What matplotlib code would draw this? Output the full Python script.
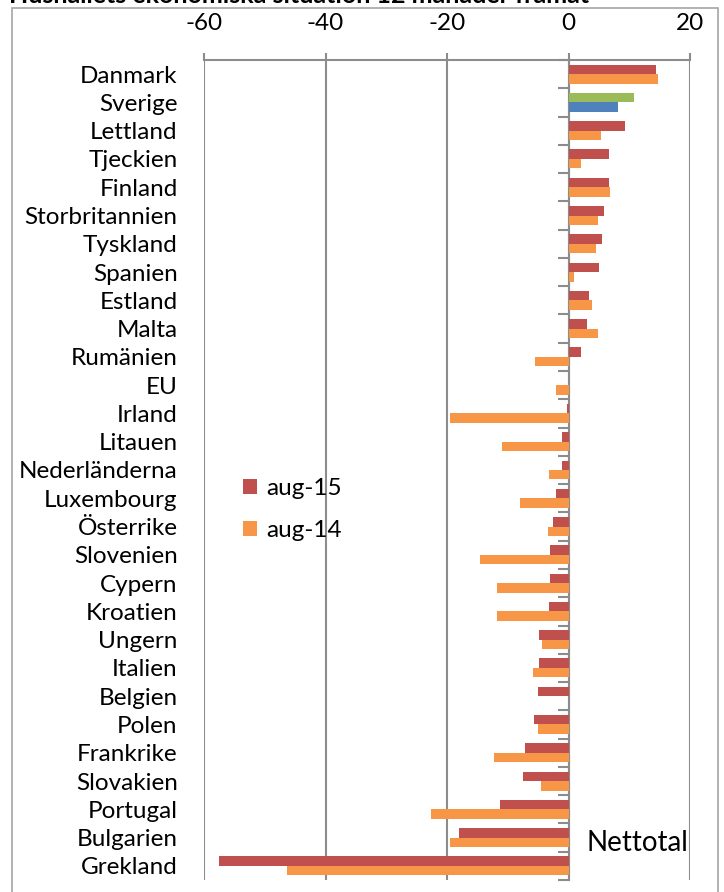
import numpy as np
import matplotlib.pyplot as plt
from matplotlib.patches import Rectangle

# Nettotal per land, hushållets ekonomiska situation 12 månader framåt
countries = ["Danmark", "Sverige", "Lettland", "Tjeckien", "Finland", "Storbritannien",
             "Tyskland", "Spanien", "Estland", "Malta", "Rumänien", "EU", "Irland",
             "Litauen", "Nederländerna", "Luxembourg", "Österrike", "Slovenien", "Cypern",
             "Kroatien", "Ungern", "Italien", "Belgien", "Polen", "Frankrike", "Slovakien",
             "Portugal", "Bulgarien", "Grekland"]
aug15 = [14.4, 10.8, 9.3, 6.6, 6.6, 5.9, 5.5, 5.0, 3.3, 3.0, 2.0, 0.0, -0.2,
         -1.0, -1.0, -2.1, -2.5, -3.0, -3.1, -3.2, -4.9, -4.9, -5.1, -5.7, -7.2, -7.5,
         -11.3, -18.0, -57.6]
aug14 = [14.8, 8.2, 5.4, 2.0, 6.8, 4.8, 4.6, 0.9, 3.8, 4.8, -5.5, -2.0, -19.5,
         -10.9, -3.2, -8.0, -3.4, -14.5, -11.8, -11.8, -4.4, -5.9, 0.0, -5.0, -12.2, -4.6,
         -22.6, -19.5, -46.4]
xticks = [-60, -40, -20, 0, 20]

red, orange, green, blue = "#C0504D", "#F79646", "#9BBB59", "#4F81BD"
grid = "#8C8C8C"
col15 = [green if c == "Sverige" else red for c in countries]
col14 = [blue if c == "Sverige" else orange for c in countries]

plt.rcParams['font.family'] = ['Lato', 'DejaVu Sans']
fs = 17.5

fig = plt.figure(figsize=(7.24, 8.92), dpi=100)
ax = fig.add_axes([204/724, 1-880/892, (690-204)/724, (880-60)/892])

y = np.arange(len(countries))
h = 0.335
ax.barh(y - h/2, aug15, height=h, color=col15, label="aug-15", zorder=3)
ax.barh(y + h/2, aug14, height=h, color=col14, label="aug-14", zorder=3)

ax.set_xlim(-60, 20)
ax.set_ylim(len(countries) - 0.5, -0.5)
ax.xaxis.tick_top()
ax.set_xticks(xticks)
ax.set_xticklabels([str(t) for t in xticks])
ax.tick_params(axis='x', direction='out', length=5, width=1.5, color=grid, pad=14, labelsize=fs)
ax.grid(axis='x', color=grid, linewidth=1.5, zorder=0)

ax.set_yticks(y)
ax.set_yticklabels(countries)
ax.tick_params(axis='y', length=0, pad=19, labelsize=fs)

for s in ['left', 'right', 'bottom']:
    ax.spines[s].set_visible(False)
ax.spines['top'].set_color(grid)
ax.spines['top'].set_linewidth(1.5)

# category axis at x=0 with boundary ticks pointing left
sec = ax.secondary_yaxis((0 - (-60)) / 80)
sec.set_yticks(np.arange(len(countries) + 1) - 0.5)
sec.set_yticklabels([])
sec.tick_params(axis='y', direction='in', length=8, width=1.5, color=grid)
for s in ['left', 'right']:
    sec.spines[s].set_color(grid)
    sec.spines[s].set_linewidth(1.5)
    sec.spines[s].set_zorder(4)

ax.legend(loc='upper left', bbox_to_anchor=(0.081, 0.49), frameon=False, fontsize=fs,
          handlelength=0.55, handleheight=0.55, handletextpad=0.4, labelspacing=0.85,
          borderpad=0, borderaxespad=0)

ax.text(0.788, 0.045, "Nettotal", transform=ax.transAxes, fontsize=20, va='center', ha='left')

fig.text(0.012, 1 - 3/892, "Hushållets ekonomiska situation 12 månader framåt",
         fontsize=18, fontweight='bold', va='baseline', ha='left')
fig.patches.append(Rectangle((12/724, -0.01), (718-12)/724, (892-8)/892 + 0.01,
                             transform=fig.transFigure, fill=False, edgecolor="#A6A6A6",
                             linewidth=1.2))

fig.savefig("out.png", dpi=100)
plt.close(fig)
